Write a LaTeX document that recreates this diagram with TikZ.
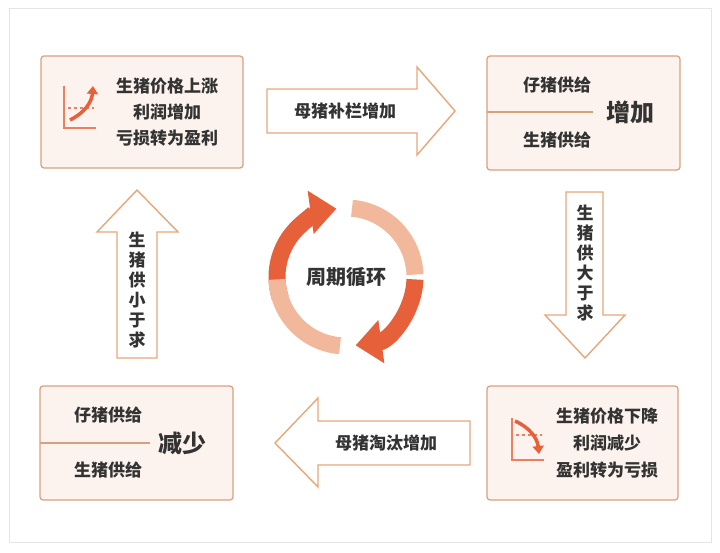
\documentclass[tikz,border=0pt]{standalone}
\usepackage{fontspec}
\setmainfont{Noto Sans CJK SC}
\usetikzlibrary{positioning,calc,arrows.meta}
\definecolor{boxfill}{HTML}{FDF3EE}
\definecolor{boxline}{HTML}{D9A07E}
\definecolor{arrline}{HTML}{E9A679}
\definecolor{deep}{HTML}{E6603A}
\definecolor{pale}{HTML}{F2B89C}
\definecolor{txt}{HTML}{333333}
\newcommand{\tnode}[3]{\node [lbl] (#1) at (#2) {#3}}
\tikzset{
  infobox/.style={draw=boxline, fill=boxfill, line width=1.2pt, rounded corners=3pt},
  bigarrow/.style={draw=arrline, fill=white, line width=1.4pt, line join=miter},
  lbl/.style={text=txt, font=\bfseries\fontsize{17}{20}\selectfont, align=center, inner sep=0pt},
  big/.style={text=txt, font=\bfseries\fontsize{24}{26}\selectfont, inner sep=0pt},
  ring/.style={line width=17pt},
  ringhead/.style={-{Triangle[width=42pt,length=26pt]}}
}
\begin{document}
\begin{tikzpicture}[x=1pt,y=-1pt]

\useasboundingbox (0,0) rectangle (720,553);
\draw[black!10, line width=1pt] (9,9) rectangle (711,542);

% boxes
\draw[infobox] (41,56) rectangle (243,168);
\draw[infobox] (487,56) rectangle (680,170);
\draw[infobox] (40,386) rectangle (233,500);
\draw[infobox] (487,386) rectangle (678,500);

% top-left box
\tnode{UP1}{167,86}{生猪价格上涨};
\tnode{UP2}{167,112}{利润增加};
\tnode{UP3}{167,138}{亏损转为盈利};
\draw[deep!80, line width=1.4pt] (64,86) -- (64,128) -- (96,128);
\draw[deep!80, line width=1.3pt, dashed] (68,108) -- (94,108);
\draw[deep, line width=3.5pt, -{Triangle[width=11pt,length=8pt]}] (70,120) to[bend right=30] (93,86);

% top-right box
\tnode{PS1}{557,85}{仔猪供给};
\tnode{PS1}{557,140}{生猪供给};
\node[big] (ADD) at (630,112) {增加};
\draw[boxline, line width=1.2pt] (487,112) -- (593,112);

% bottom-left box
\tnode{PS2}{108,415}{仔猪供给};
\tnode{PS2}{108,470}{生猪供给};
\node[big] (SUB) at (182,443) {减少};
\draw[boxline, line width=1.2pt] (40,443) -- (150,443);

% bottom-right box
\tnode{DN1}{607,416}{生猪价格下降};
\tnode{DN2}{607,443}{利润减少};
\tnode{DN3}{607,470}{盈利转为亏损};
\draw[deep!80, line width=1.4pt] (512,418) -- (512,460) -- (544,460);
\draw[deep!80, line width=1.3pt, dashed] (516,435) -- (542,435);
\draw[deep, line width=3.5pt, -{Triangle[width=11pt,length=8pt]}] (515,421) to[bend left=30] (539,454);

% big arrows
\draw[bigarrow] (267,89) -- (417,89) -- (417,67) -- (455,111) -- (417,155) -- (417,133) -- (267,133) -- cycle;
\tnode{TOPA}{345,111}{母猪补栏增加};
\draw[bigarrow] (566,192) -- (603,192) -- (603,315) -- (625,315) -- (585,358) -- (545,315) -- (566,315) -- cycle;
\tnode{RGTA}{585,263}{生\\猪\\供\\大\\于\\求};
\draw[bigarrow] (470,421) -- (318,421) -- (318,398) -- (275,443) -- (318,487) -- (318,465) -- (470,465) -- cycle;
\tnode{BOTA}{386,443}{母猪淘汰增加};
\draw[bigarrow] (117,358) -- (157,358) -- (157,232) -- (178,232) -- (137,190) -- (97,232) -- (117,232) -- cycle;
\tnode{LFTA}{137,290}{生\\猪\\供\\小\\于\\求};

% cycle
\coordinate (C) at (346,277);
\draw[ring, deep, ringhead] ($(C)+(-198:69)$) arc[start angle=-198, end angle=-98, radius=69];
\draw[ring, pale] ($(C)+(-85:69)$) arc[start angle=-85, end angle=-2, radius=69];
\draw[ring, deep, ringhead] ($(C)+(-358:69)$) arc[start angle=-358, end angle=-278, radius=69];
\draw[ring, pale] ($(C)+(-265:69)$) arc[start angle=-265, end angle=-182, radius=69];
\node[text=txt, font=\bfseries\fontsize{20}{22}\selectfont] (CYC) at (C) {周期循环};

\end{tikzpicture}
\end{document}
